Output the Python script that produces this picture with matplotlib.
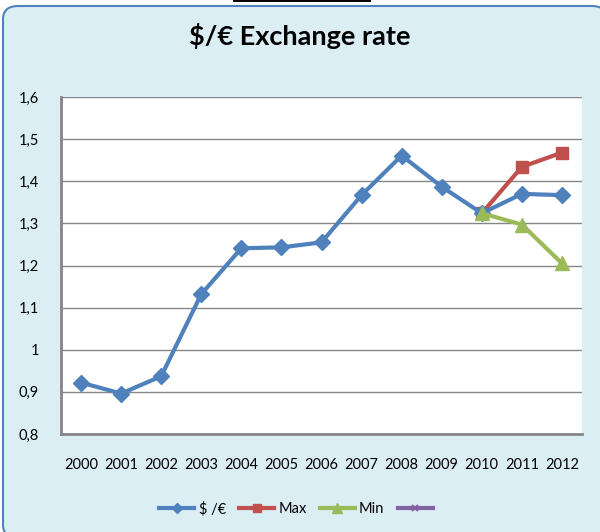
import numpy as np
import matplotlib
matplotlib.use("Agg")
import matplotlib.pyplot as plt
from matplotlib.patches import FancyBboxPatch, Rectangle
from matplotlib.ticker import FuncFormatter

plt.rcParams.update({
    "font.family": ["Lato", "DejaVu Sans"],
    "font.size": 10,
})

# Data
years = ["2000", "2001", "2002", "2003", "2004", "2005", "2006",
         "2007", "2008", "2009", "2010", "2011", "2012"]
rate = [0.922, 0.896, 0.937, 1.132, 1.241, 1.243, 1.255,
        1.367, 1.461, 1.387, 1.324, 1.370, 1.367]
max_years = ["2010", "2011", "2012"]
max_vals = [1.324, 1.434, 1.468]
min_years = ["2010", "2011", "2012"]
min_vals = [1.324, 1.297, 1.205]
y_ticks = [0.8, 0.9, 1.0, 1.1, 1.2, 1.3, 1.4, 1.5, 1.6]

BG = "#DBEEF4"
BLUE = "#4F81BD"
RED = "#C0504D"
GREEN = "#9BBB59"
PURPLE = "#8064A2"
GRID = "#868686"

W, H = 600, 532
fig = plt.figure(figsize=(W / 100, H / 100), dpi=100)
fig.patch.set_facecolor("white")

# rounded chart frame (right/bottom edges run off the image like the reference)
frame = FancyBboxPatch((3 / W, -6 / H), 604 / W, (H + 3) / H - 3 / H,
                       boxstyle="round,pad=0,rounding_size=0.025",
                       transform=fig.transFigure, facecolor=BG,
                       edgecolor=BLUE, linewidth=1.5, zorder=0)
fig.add_artist(frame)
# small black bar at the top edge
fig.add_artist(Rectangle((233 / W, 1 - 2 / H), 138 / W, 2 / H,
                         transform=fig.transFigure, facecolor="black",
                         edgecolor="none", zorder=1))

ax = fig.add_axes([61 / W, 1 - 434 / H, 521 / W, 337 / H])
ax.set_facecolor("white")

xi = np.arange(len(years))
mx = [years.index(y) for y in max_years]
mn = [years.index(y) for y in min_years]

ax.plot(xi, rate, color=BLUE, lw=3, marker="D", ms=8, zorder=4, label="$ /€")
ax.plot(mx, max_vals, color=RED, lw=3, marker="s", ms=9, zorder=3, label="Max")
ax.plot(mn, min_vals, color=GREEN, lw=3, marker="^", ms=10, zorder=5, label="Min")
ax.plot([], [], color=PURPLE, lw=3, marker="x", ms=6, mew=1.5, label=" ")

ax.set_xlim(-0.5, len(years) - 0.5)
ax.set_ylim(0.8, 1.6)
ax.set_yticks(y_ticks)
ax.yaxis.set_major_formatter(FuncFormatter(
    lambda v, p: ("%g" % round(v, 1)).replace(".", ",")))
ax.set_xticks(xi)
ax.set_xticklabels(years)
ax.tick_params(axis="both", length=0, labelsize=10.5, colors="black")
ax.tick_params(axis="x", pad=17)
ax.tick_params(axis="y", pad=16)

ax.yaxis.grid(True, color=GRID, lw=1)
ax.set_axisbelow(True)
for side in ["top", "right"]:
    ax.spines[side].set_visible(False)
for side in ["left", "bottom"]:
    ax.spines[side].set_color(GRID)
    ax.spines[side].set_linewidth(2)

fig.text(0.5, 1 - 36 / H, "$/€ Exchange rate", ha="center", va="center",
         fontsize=19.5, fontweight="bold")

handles, labels = ax.get_legend_handles_labels()
fig.legend(handles, labels, loc="center", bbox_to_anchor=(0.5, 1 - 509 / H),
           ncol=4, frameon=False, fontsize=10.5, handlelength=2.4,
           handletextpad=0.3, columnspacing=0.9, markerscale=0.7)

fig.savefig("out.png", dpi=100, facecolor=fig.get_facecolor())
